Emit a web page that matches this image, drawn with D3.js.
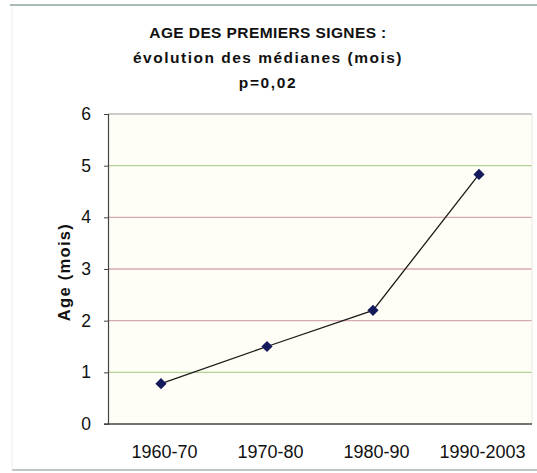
<!DOCTYPE html>
<html>
<head>
<meta charset="utf-8">
<script src="https://cdn.jsdelivr.net/npm/d3@7"></script>
<style>
  html, body { margin: 0; padding: 0; background: #fff; }
  svg { display: block; }
</style>
</head>
<body>
<svg id="chart" width="537" height="473"></svg>
<script>
// Median age at first signs, by period
const periods = ["1960-70", "1970-80", "1980-90", "1990-2003"];
const medians = [0.78, 1.5, 2.2, 4.83];
const yTicks = [0, 1, 2, 3, 4, 5, 6];
const titleLines = ["AGE DES PREMIERS SIGNES :", "évolution des médianes (mois)", "p=0,02"];
const yLabel = "Age (mois)";

const font = "Liberation Sans, Arial, sans-serif";
const svg = d3.select("#chart");
const W = 537, H = 473;
const plot = { left: 108, right: 532, top: 114, bottom: 424 };

// outer frame lines
svg.append("line").attr("x1", 10).attr("x2", W).attr("y1", 5).attr("y2", 5)
  .attr("stroke", "#8fa79a").attr("stroke-width", 1.5);
svg.append("line").attr("x1", 12).attr("x2", W).attr("y1", 470).attr("y2", 470)
  .attr("stroke", "#a9b5ae").attr("stroke-width", 1.5);
svg.append("line").attr("x1", 12).attr("x2", 12).attr("y1", 6).attr("y2", 470)
  .attr("stroke", "#ececec").attr("stroke-width", 1);

// title, three centred lines
const titleStyle = [
  { y: 38, spacing: 0.4 },
  { y: 63, spacing: 1.5 },
  { y: 88, spacing: 1.6 }
];
titleLines.forEach((t, i) => {
  svg.append("text").attr("text-anchor", "middle")
    .attr("x", 268).attr("y", titleStyle[i].y)
    .attr("font-family", font).attr("font-weight", "bold").attr("font-size", 15.5)
    .attr("letter-spacing", titleStyle[i].spacing)
    .attr("fill", "#111").text(t);
});

const x = d3.scalePoint().domain(periods).range([plot.left, plot.right]).padding(0.5);
const y = d3.scaleLinear().domain([0, 6]).range([plot.bottom, plot.top]);

// plot background
svg.append("rect").attr("x", plot.left).attr("y", plot.top)
  .attr("width", plot.right - plot.left).attr("height", plot.bottom - plot.top)
  .attr("fill", "#fefef6");

// horizontal gridlines
const gridColor = v => (v === 5 || v === 1) ? "#b3d192" : "#d6a8b0";
svg.append("g").selectAll("line").data(yTicks.filter(v => v > 0 && v < 6)).join("line")
  .attr("x1", plot.left).attr("x2", plot.right)
  .attr("y1", d => y(d)).attr("y2", d => y(d))
  .attr("stroke", d => gridColor(d)).attr("stroke-width", 1.3);

// top and right frame of the plot area
svg.append("line").attr("x1", plot.left).attr("x2", plot.right)
  .attr("y1", plot.top).attr("y2", plot.top).attr("stroke", "#999").attr("stroke-width", 1.2);
svg.append("line").attr("x1", plot.right).attr("x2", plot.right)
  .attr("y1", plot.top).attr("y2", plot.bottom).attr("stroke", "#e6e6e0").attr("stroke-width", 1);

// y axis
const yAxis = svg.append("g").attr("transform", `translate(${plot.left},0)`)
  .call(d3.axisLeft(y).tickValues(yTicks).tickFormat(d3.format("d")).tickSize(4).tickPadding(13));
yAxis.select(".domain").attr("stroke", "#444").attr("stroke-width", 1.2);
yAxis.selectAll(".tick line").attr("stroke", "#444");
yAxis.selectAll(".tick text").attr("font-family", font).attr("font-size", 17.5).attr("fill", "#111");

// x axis
const xAxis = svg.append("g").attr("transform", `translate(0,${plot.bottom})`)
  .call(d3.axisBottom(x).tickSize(0).tickPadding(21));
xAxis.select(".domain").attr("stroke", "#444").attr("stroke-width", 1.3)
  .attr("d", `M${plot.left - 4},0H${plot.right}`);
xAxis.selectAll(".tick text").attr("font-family", font).attr("font-size", 18)
  .attr("fill", "#111").attr("dx", 3);

// y axis title
svg.append("text")
  .attr("transform", `translate(70,272) rotate(-90)`)
  .attr("text-anchor", "middle").attr("font-family", font).attr("font-weight", "bold")
  .attr("font-size", 16.5).attr("letter-spacing", 1.3).attr("fill", "#111").text(yLabel);

// series line
svg.append("path").datum(medians)
  .attr("d", d3.line().x((d, i) => x(periods[i])).y(d => y(d)))
  .attr("fill", "none").attr("stroke", "#1a1a1a").attr("stroke-width", 1.3);

// diamond markers
svg.append("g").selectAll("path").data(medians).join("path")
  .attr("transform", (d, i) => `translate(${x(periods[i])},${y(d)})`)
  .attr("d", d3.symbol(d3.symbolDiamond2, 80))
  .attr("fill", "#141a5c");
</script>
</body>
</html>
